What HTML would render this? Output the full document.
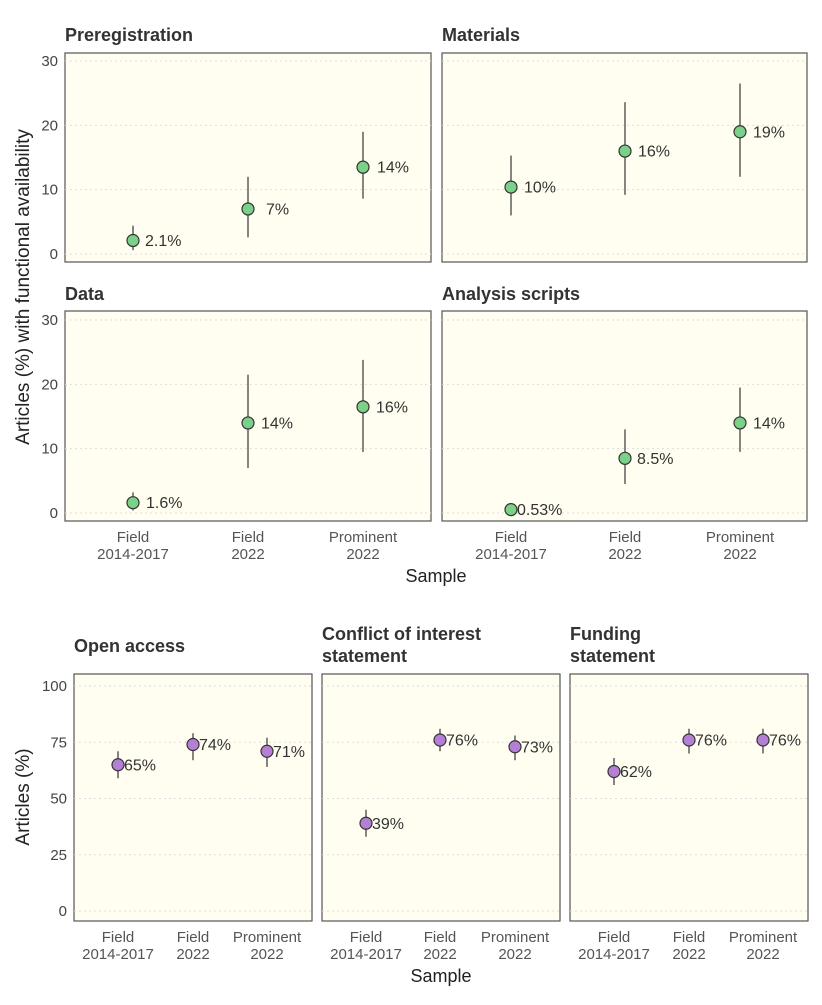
<!DOCTYPE html>
<html><head><meta charset="utf-8"><style>
body{margin:0;background:#fff;font-family:"Liberation Sans",sans-serif}
svg text{font-family:"Liberation Sans",sans-serif}
</style></head><body>
<svg id="c" width="822" height="1000" viewBox="0 0 822 1000" xmlns="http://www.w3.org/2000/svg"></svg>
<script>
const categories = ["Field\n2014-2017","Field\n2022","Prominent\n2022"];
const topTicks = [0,10,20,30];
const botTicks = [0,25,50,75,100];
const preregVals = [2.1,7,13.5], preregLo=[0.6,2.6,8.6], preregHi=[4.4,12,19], preregLbl=["2.1%","7%","14%"];
const materialsVals=[10.4,16,19], materialsLo=[6,9.2,12], materialsHi=[15.3,23.6,26.5], materialsLbl=["10%","16%","19%"];
const dataVals=[1.6,14,16.5], dataLo=[0.4,7,9.5], dataHi=[3.2,21.5,23.8], dataLbl=["1.6%","14%","16%"];
const scriptsVals=[0.53,8.5,14], scriptsLo=[0,4.5,9.5], scriptsHi=[0.9,13,19.5], scriptsLbl=["0.53%","8.5%","14%"];
const oaVals=[65,74,71], oaLo=[59,67,64], oaHi=[71,79,77], oaLbl=["65%","74%","71%"];
const coiVals=[39,76,73], coiLo=[33,71,67], coiHi=[45,81,78], coiLbl=["39%","76%","73%"];
const fundVals=[62,76,76], fundLo=[56,70,70], fundHi=[68,81,81], fundLbl=["62%","76%","76%"];

const svg=document.getElementById('c'), NS="http://www.w3.org/2000/svg";
function el(t,a,p){const e=document.createElementNS(NS,t);for(const k in a)e.setAttribute(k,a[k]);(p||svg).appendChild(e);return e;}
function txt(s,a,name){const e=el('text',a);e.textContent=s;

return e;}

function panel(o){
 const g=el('g',{});
 
 
 const y=v=>o.y0+(v-o.vmin)/(o.vmax-o.vmin)*(o.y1-o.y0);
 const x=i=>o.cx[i];
 el('rect',{x:o.x,y:o.top,width:o.w,height:o.h,fill:'#fffef0',stroke:'#555','stroke-width':1.2},g);
 o.ticks.forEach(t=>{el('line',{x1:o.x,x2:o.x+o.w,y1:y(t),y2:y(t),stroke:'#ddd','stroke-dasharray':'2,3'},g);
  if(o.showY){txt(String(t),{x:o.x-7,y:y(t)+5,'text-anchor':'end','font-size':15,fill:'#444'},'y-tick-label');}});
 txt(o.title[0],{x:o.tx,y:o.ty,'font-size':18,'font-weight':'bold',fill:'#333'},'panel-title');
 if(o.title[1])txt(o.title[1],{x:o.tx,y:o.ty+22,'font-size':18,'font-weight':'bold',fill:'#333'},'panel-title');
 o.vals.forEach((v,i)=>{
  const l=el('line',{x1:x(i),x2:x(i),y1:y(o.lo[i]),y2:y(o.hi[i]),stroke:'#444','stroke-width':1.3},g);
  
  
  const c=el('circle',{cx:x(i),cy:y(v),r:6,fill:o.color,stroke:'#333','stroke-width':1.2},g);
  
  
  txt(o.lbl[i],{x:x(i)+o.lx[i],y:y(v)+5.5,'font-size':16,fill:'#333'},'value-label');
 });
 if(o.showX){categories.forEach((c,i)=>{const p=c.split('\n');
  txt(p[0],{x:x(i),y:o.top+o.h+21,'text-anchor':'middle','font-size':15,fill:'#555'},'x-tick-label');
  txt(p[1],{x:x(i),y:o.top+o.h+38,'text-anchor':'middle','font-size':15,fill:'#555'},'x-tick-label');});}
}
const G='#7bd08a', P='#b57fd6';
const tl=[133,248,363], tr=[511,625,740];
const L13=[13,13,13], L6=[6,6,6];
panel({name:'preregistration-panel',x:65,top:53,w:366,h:209,y0:254,y1:61,vmin:0,vmax:30,ticks:topTicks,showY:true,showX:false,cx:tl,vals:preregVals,lo:preregLo,hi:preregHi,lbl:preregLbl,color:G,lx:[12,18,14],title:['Preregistration'],tx:65,ty:41});
panel({name:'materials-panel',x:442,top:53,w:365,h:209,y0:254,y1:61,vmin:0,vmax:30,ticks:topTicks,showY:false,showX:false,cx:tr,vals:materialsVals,lo:materialsLo,hi:materialsHi,lbl:materialsLbl,color:G,lx:L13,title:['Materials'],tx:442,ty:41});
panel({name:'data-panel',x:65,top:311,w:366,h:210,y0:513,y1:320,vmin:0,vmax:30,ticks:topTicks,showY:true,showX:true,cx:tl,vals:dataVals,lo:dataLo,hi:dataHi,lbl:dataLbl,color:G,lx:L13,title:['Data'],tx:65,ty:300});
panel({name:'analysis-scripts-panel',x:442,top:311,w:365,h:210,y0:513,y1:320,vmin:0,vmax:30,ticks:topTicks,showY:false,showX:true,cx:tr,vals:scriptsVals,lo:scriptsLo,hi:scriptsHi,lbl:scriptsLbl,color:G,lx:[6,12,13],title:['Analysis scripts'],tx:442,ty:300});
txt('Sample',{x:436,y:582,'text-anchor':'middle','font-size':18,fill:'#222'},'x-axis-title');
txt('Articles (%) with functional availability',{x:0,y:0,transform:'translate(29,287) rotate(-90)','text-anchor':'middle','font-size':19,fill:'#222'},'y-axis-title');

panel({name:'open-access-panel',x:74,top:674,w:238,h:247,y0:911,y1:686,vmin:0,vmax:100,ticks:botTicks,showY:true,showX:true,cx:[118,193,267],vals:oaVals,lo:oaLo,hi:oaHi,lbl:oaLbl,color:P,lx:L6,title:['Open access'],tx:74,ty:652});
panel({name:'conflict-of-interest-panel',x:322,top:674,w:238,h:247,y0:911,y1:686,vmin:0,vmax:100,ticks:botTicks,showY:false,showX:true,cx:[366,440,515],vals:coiVals,lo:coiLo,hi:coiHi,lbl:coiLbl,color:P,lx:L6,title:['Conflict of interest','statement'],tx:322,ty:640});
panel({name:'funding-statement-panel',x:570,top:674,w:238,h:247,y0:911,y1:686,vmin:0,vmax:100,ticks:botTicks,showY:false,showX:true,cx:[614,689,763],vals:fundVals,lo:fundLo,hi:fundHi,lbl:fundLbl,color:P,lx:L6,title:['Funding','statement'],tx:570,ty:640});
txt('Sample',{x:441,y:982,'text-anchor':'middle','font-size':18,fill:'#222'},'x-axis-title-bottom');
txt('Articles (%)',{x:0,y:0,transform:'translate(29,797) rotate(-90)','text-anchor':'middle','font-size':19,fill:'#222'},'y-axis-title-bottom');
</script>
</body></html>
